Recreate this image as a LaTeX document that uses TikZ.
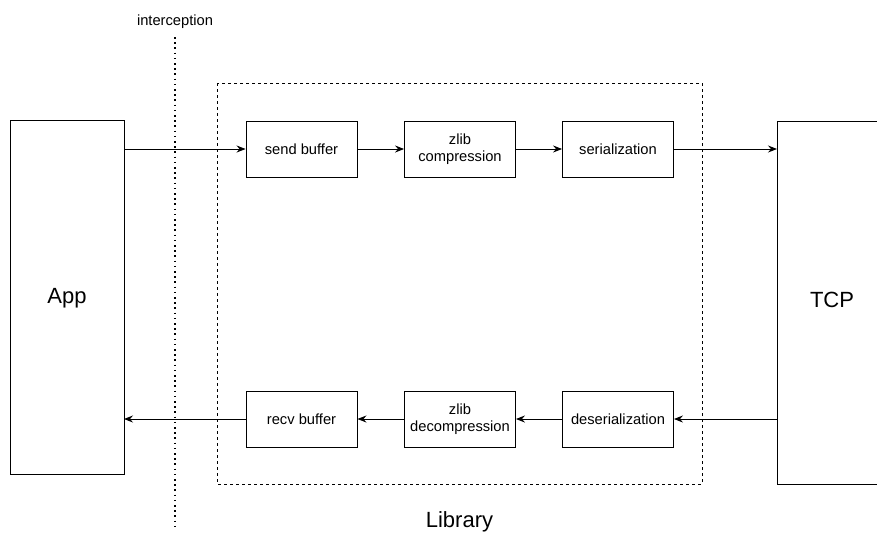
\documentclass[tikz,border=0pt]{standalone}
\usepackage{fontspec}
\setmainfont{Liberation Sans}
\usetikzlibrary{arrows.meta}
\begin{document}
\begin{tikzpicture}[x=1pt,y=-1pt,
  line width=0.9pt,
  stagebox/.style={draw, minimum width=111pt, minimum height=56pt, inner sep=0pt,
    align=center, font=\fontsize{14.7}{17}\selectfont},
  flow/.style={-{Stealth[length=9pt,width=7pt,inset=3pt]}},
  small/.style={font=\fontsize{14.7}{17}\selectfont},
  big/.style={font=\fontsize{22}{26}\selectfont}]
\useasboundingbox (0,0) rectangle (877,536);

% library boundary
\draw[dash pattern=on 3pt off 3pt, line width=0.8pt] (217,83) rectangle (702,484);
\node[big] (lib) at (459.5,522) {Library};

% interception line
\node[small] (intlabel) at (175,22) {interception};
\coordinate (itop) at (175,37);
\coordinate (ibot) at (175,530);
\draw[dash pattern=on 1.6pt off 3.6pt, line width=1.3pt] (itop) -- (ibot);

% app and transport
\draw (124,120) -- (10,120) -- (10,474) -- (124,474) -- cycle;
\node[big] (app) at (67,298) {App};
\draw (900,121) -- (777,121) -- (777,484) -- (900,484);
\node[big] (tcp) at (832,300) {TCP};
\coordinate (appsend) at (124,149);
\coordinate (apprecv) at (124,419);
\coordinate (tcpsend) at (777,149);
\coordinate (tcprecv) at (777,419);

% outgoing pipeline
\node[stagebox] (sb) at (301.5,149) {send buffer};
\node[stagebox] (zc) at (460,149) {zlib\\compression};
\node[stagebox] (ser) at (618,149) {serialization};

% incoming pipeline
\node[stagebox] (rb) at (301.5,419) {recv buffer};
\node[stagebox] (zd) at (460,419) {zlib\\decompression};
\node[stagebox] (des) at (618,419) {deserialization};

\draw[flow] (appsend) -- (sb);
\draw[flow] (sb) -- (zc);
\draw[flow] (zc) -- (ser);
\draw[flow] (ser) -- (tcpsend);

\draw[flow] (tcprecv) -- (des);
\draw[flow] (des) -- (zd);
\draw[flow] (zd) -- (rb);
\draw[flow] (rb) -- (apprecv);
\end{tikzpicture}
\end{document}
